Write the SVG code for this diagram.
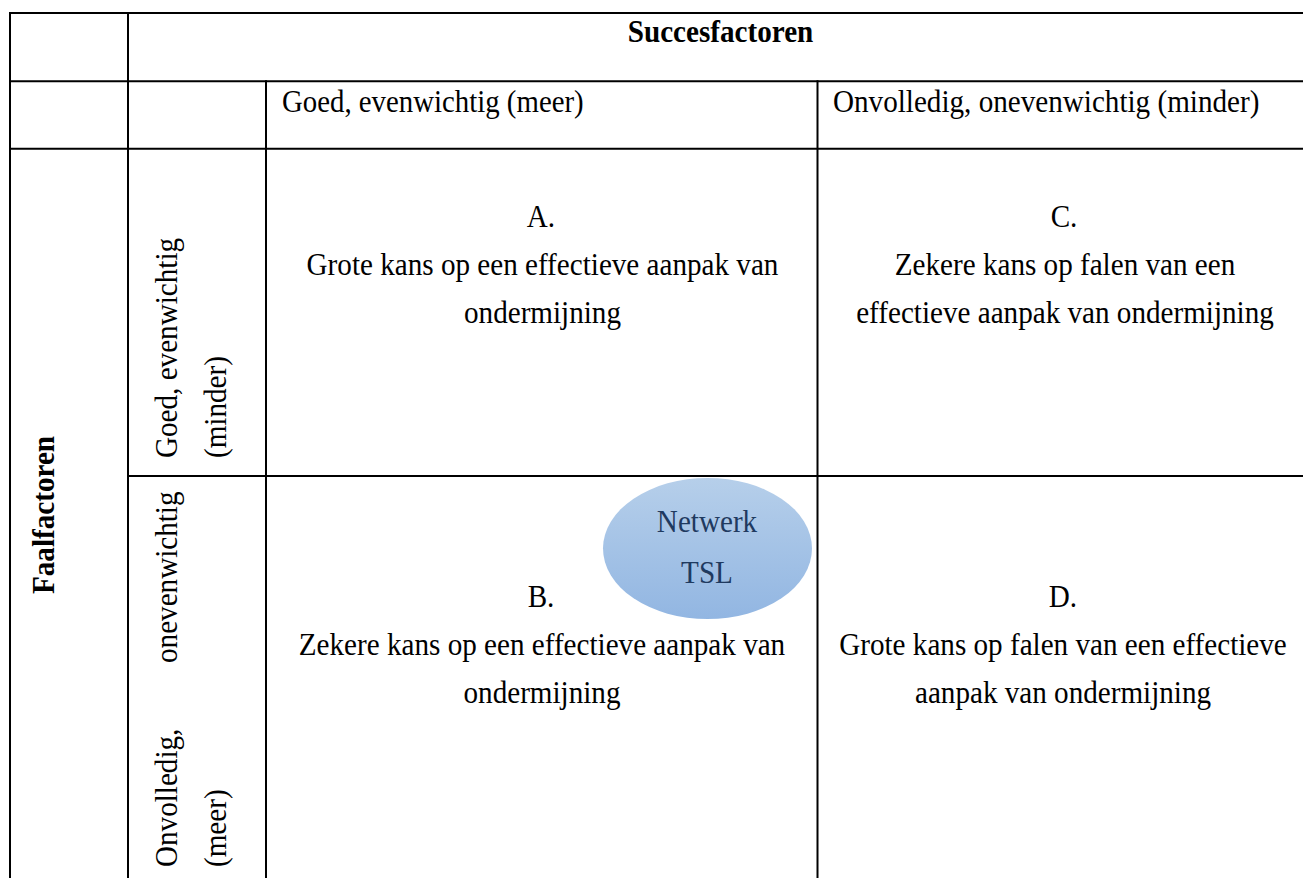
<svg xmlns="http://www.w3.org/2000/svg" width="1303" height="878" viewBox="0 0 1303 878">
<style>
  .grid line { stroke:#000; stroke-width:2; }
  text { font-family:"Liberation Serif","Times New Roman",serif; font-size:31px; fill:#000; }
  .b { font-weight:bold; }
  .m { text-anchor:middle; }
  .net { fill:#1f3a60; }
</style>
<defs>
  <linearGradient id="eg" x1="0" y1="0" x2="0" y2="1">
    <stop offset="0" stop-color="#b6cfea"/>
    <stop offset="1" stop-color="#92b6e2"/>
  </linearGradient>
</defs>
<rect width="1303" height="878" fill="#fff"/>
<g class="grid" id="grid">
  <line x1="9" y1="13" x2="1303" y2="13"/>
  <line x1="9" y1="81.3" x2="1303" y2="81.3"/>
  <line x1="9" y1="148.7" x2="1303" y2="148.7"/>
  <line x1="128" y1="476" x2="1303" y2="476"/>
  <line x1="10" y1="12" x2="10" y2="878"/>
  <line x1="128" y1="12" x2="128" y2="878"/>
  <line x1="266" y1="80.3" x2="266" y2="878"/>
  <line x1="817.5" y1="80.3" x2="817.5" y2="878"/>
</g>
<g id="header">
  <text class="b m" transform="translate(720.5,42) scale(0.94,1)">Succesfactoren</text>
</g>
<g id="col-head-1">
  <text transform="translate(282,112) scale(0.93,1)">Goed, evenwichtig (meer)</text>
</g>
<g id="col-head-2">
  <text transform="translate(833,112) scale(0.94,1)">Onvolledig, onevenwichtig (minder)</text>
</g>
<g id="row-head-main">
  <text class="b" transform="translate(54,594) rotate(-90) scale(0.94,1)">Faalfactoren</text>
</g>
<g id="row-head-1">
  <text transform="translate(177,458) rotate(-90) scale(0.94,1)">Goed, evenwichtig</text>
  <text transform="translate(226,458) rotate(-90) scale(0.94,1)">(minder)</text>
</g>
<g id="row-head-2">
  <text transform="translate(177,867) rotate(-90) scale(0.94,1)">Onvolledig,</text>
  <text transform="translate(177,663) rotate(-90) scale(0.94,1)">onevenwichtig</text>
  <text transform="translate(226,867) rotate(-90) scale(0.94,1)">(meer)</text>
</g>
<g id="cell-A">
  <text class="m" transform="translate(541,227) scale(0.94,1)">A.</text>
  <text class="m" transform="translate(542.5,275) scale(0.94,1)">Grote kans op een effectieve aanpak van</text>
  <text class="m" transform="translate(542.5,323) scale(0.94,1)">ondermijning</text>
</g>
<g id="cell-C">
  <text class="m" transform="translate(1064,227) scale(0.94,1)">C.</text>
  <text class="m" transform="translate(1065,275) scale(0.94,1)">Zekere kans op falen van een</text>
  <text class="m" transform="translate(1065,323) scale(0.94,1)">effectieve aanpak van ondermijning</text>
</g>
<g id="cell-B">
  <text class="m" transform="translate(541,607) scale(0.94,1)">B.</text>
  <text class="m" transform="translate(542,655) scale(0.94,1)">Zekere kans op een effectieve aanpak van</text>
  <text class="m" transform="translate(542,703) scale(0.94,1)">ondermijning</text>
</g>
<g id="cell-D">
  <text class="m" transform="translate(1063,607) scale(0.94,1)">D.</text>
  <text class="m" transform="translate(1063,655) scale(0.94,1)">Grote kans op falen van een effectieve</text>
  <text class="m" transform="translate(1063,703) scale(0.94,1)">aanpak van ondermijning</text>
</g>
<g id="netwerk-tsl">
  <ellipse cx="707.5" cy="548.5" rx="104.5" ry="70.5" fill="url(#eg)"/>
  <text class="m net" transform="translate(707,532) scale(0.94,1)">Netwerk</text>
  <text class="m net" transform="translate(707,583) scale(0.94,1)">TSL</text>
</g>
</svg>
